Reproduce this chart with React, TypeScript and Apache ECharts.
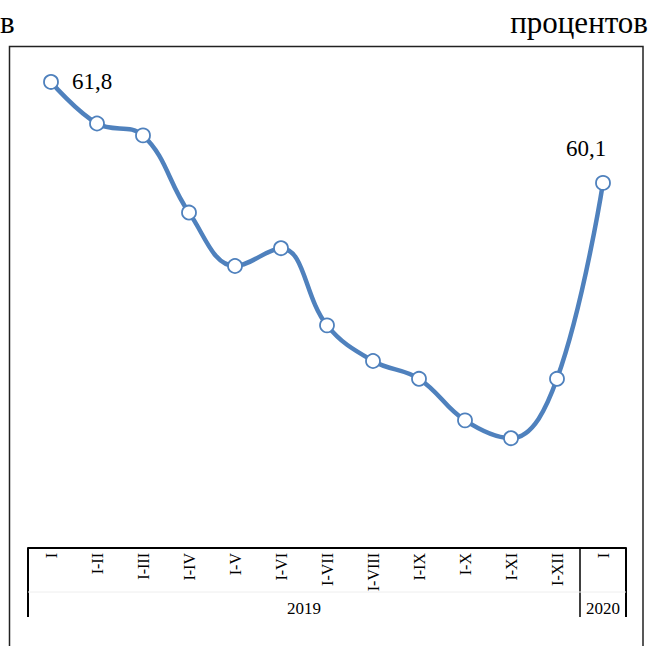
import React, { useEffect, useRef } from "react";
import * as echarts from "echarts";

const categories = ["I", "I-II", "I-III", "I-IV", "I-V", "I-VI", "I-VII", "I-VIII", "I-IX", "I-X", "I-XI", "I-XII", "I"];
const values = [61.8, 61.1, 60.9, 59.6, 58.7, 59.0, 57.7, 57.1, 56.8, 56.1, 55.8, 56.8, 60.1];
const years = ["2019", "2020"];
const unitText = "процентов";
const cutText = "в";

const W = 652;
const H = 646;
const GL = 28;
const GR = 26;
const AXIS_Y = 548;
const Y_MIN = 53.95;
const Y_MAX = 62.5;
const TOP = 40.4;

export default function App() {
  const ref = useRef<HTMLDivElement>(null);
  useEffect(() => {
    if (!ref.current) return;
    const chart = echarts.init(ref.current, null, { renderer: "svg" });
    const plotW = W - GL - GR;
    const band = plotW / categories.length;
    const sepX = GL + band * 12;
    const rightX = W - GR;
    const font = "Liberation Serif";
    const fmt = (p: any) => String(p.value).replace(".", ",");
    const data = values.map((v, i) => {
      if (i === 0) {
        return { value: v, label: { show: true, position: "right", distance: 13, formatter: fmt } };
      }
      if (i === values.length - 1) {
        return { value: v, label: { show: true, position: "top", offset: [-17, -10], formatter: fmt } };
      }
      return v;
    });
    chart.setOption({
      animation: false,
      backgroundColor: "#ffffff",
      textStyle: { fontFamily: font },
      grid: { left: GL, right: GR, top: TOP, bottom: H - AXIS_Y, containLabel: false },
      xAxis: {
        type: "category",
        data: categories,
        boundaryGap: true,
        axisLine: { show: true, lineStyle: { color: "#000", width: 2 } },
        axisTick: { show: false },
        axisLabel: { rotate: 90, margin: 5, color: "#000", fontFamily: font, fontSize: 16, interval: 0 },
        splitLine: { show: false },
      },
      yAxis: { type: "value", min: Y_MIN, max: Y_MAX, show: false, splitLine: { show: false } },
      series: [
        {
          type: "line",
          data,
          smooth: 0.4,
          symbol: "circle",
          symbolSize: 14,
          lineStyle: { color: "#4F81BD", width: 4.5 },
          itemStyle: { color: "#ffffff", borderColor: "#4F81BD", borderWidth: 1.8 },
          label: { color: "#000", fontFamily: font, fontSize: 23 },
          z: 3,
        },
      ],
      graphic: [
        { type: "rect", shape: { x: 9.5, y: 46.5, width: 633.5, height: 620 }, style: { fill: "none", stroke: "#222", lineWidth: 1.5 }, silent: true },
        { type: "text", x: 648, y: 7, style: { text: unitText, fontFamily: font, fontSize: 31, fill: "#000", textAlign: "right" } },
        { type: "text", x: 0, y: 7, style: { text: cutText, fontFamily: font, fontSize: 31, fill: "#000", textAlign: "left" } },
        { type: "line", shape: { x1: GL, y1: AXIS_Y, x2: GL, y2: 617 }, style: { stroke: "#000", lineWidth: 2 } },
        { type: "line", shape: { x1: sepX, y1: AXIS_Y, x2: sepX, y2: 617 }, style: { stroke: "#000", lineWidth: 1.5 } },
        { type: "line", shape: { x1: rightX, y1: AXIS_Y, x2: rightX, y2: 617 }, style: { stroke: "#000", lineWidth: 2 } },
        { type: "line", shape: { x1: GL, y1: 592, x2: rightX, y2: 592 }, style: { stroke: "#eeeeee", lineWidth: 1 } },
        { type: "text", x: (GL + sepX) / 2, y: 608, style: { text: years[0], fontFamily: font, fontSize: 17, fill: "#000", textAlign: "center", textVerticalAlign: "middle" } },
        { type: "text", x: (sepX + rightX) / 2, y: 608, style: { text: years[1], fontFamily: font, fontSize: 17, fill: "#000", textAlign: "center", textVerticalAlign: "middle" } },
      ],
    });
    return () => chart.dispose();
  }, []);
  return <div ref={ref} style={{ position: "fixed", left: 0, top: 0, width: W, height: H }} />;
}
